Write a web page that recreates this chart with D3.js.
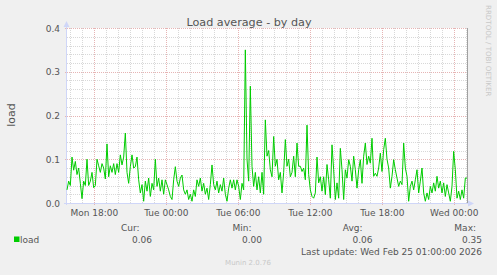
<!DOCTYPE html>
<meta charset="utf-8">
<style>
body { margin: 0; background: #f0f0f0; }
text { font-family: "DejaVu Sans", sans-serif; fill: #555; }
</style>
<svg id="chart" width="497" height="275"></svg>
<script src="https://d3js.org/d3.v7.min.js"></script>
<script>

// samples every 500 s, starting Mon Feb 23 15:43:30 UTC
var startTime = Date.UTC(2026, 1, 23, 15, 43, 30),
    stepMs = 500 * 1000;

var loadValues = [
  0.03,0.05,0.04,0.105,0.075,0.095,0.065,0.08,0.045,0.01,
  0.05,0.04,0.1,0.04,0.05,0.07,0.035,0.04,0.1,0.085,
  0.07,0.09,0.08,0.055,0.135,0.06,0.085,0.07,0.09,0.065,
  0.09,0.07,0.11,0.087,0.105,0.16,0.07,0.045,0.083,0.11,
  0.08,0.083,0.105,0.053,0.023,0.042,0.004,0.05,0.027,0.057,
  0.015,0.045,0.03,0.1,0.038,0.057,0.027,0.053,0.02,0.053,
  0.042,0.03,0.015,0.008,0.053,0.083,0.05,0.038,0.057,0.064,
  0.03,0.02,0.03,0.008,0.02,0.004,0.03,0.015,0.053,0.038,
  0.057,0.027,0.045,0.02,0.034,0.008,0.042,0.087,0.042,0.03,
  0.05,0.023,0.042,0.027,0.057,0.02,0.004,0.034,0.053,0.034,
  0.053,0.03,0.053,0.038,0.008,0.045,0.03,0.35,0.1,0.05,
  0.267,0.084,0.038,0.07,0.03,0.06,0.023,0.07,0.02,0.19,
  0.107,0.12,0.076,0.06,0.152,0.084,0.1,0.053,0.07,0.023,
  0.07,0.145,0.084,0.1,0.06,0.07,0.107,0.06,0.137,0.084,
  0.084,0.072,0.08,0.053,0.178,0.065,0.03,0.015,0.011,0.023,
  0.105,0.046,0.06,0.027,0.06,0.019,0.088,0.053,0.011,0.133,
  0.076,0.008,0.046,0.011,0.125,0.076,0.008,0.076,0.057,0.099,
  0.084,0.05,0.107,0.076,0.034,0.076,0.099,0.045,0.107,0.137,
  0.088,0.107,0.091,0.148,0.061,0.068,0.061,0.08,0.114,0.072,
  0.122,0.148,0.1,0.08,0.034,0.061,0.099,0.076,0.057,0.038,
  0.05,0.042,0.137,0.08,0.061,0.004,0.038,0.05,0.03,0.053,
  0.076,0.023,0.05,0.08,0.023,0.004,0.023,0.008,0.038,0.023,
  0.046,0.027,0.061,0.034,0.05,0.023,0.046,0.015,0.042,0.023,
  0.004,0.038,0.118,0.076,0.011,0.027,0.008,0.03,0.011,0.057,
  0.057
];

var yTicks = [0, 0.1, 0.2, 0.3, 0.4];
var legendHeaders = ["Cur:", "Min:", "Avg:", "Max:"];
var lastUpdate = "Last update: Wed Feb 25 01:00:00 2026";

var data = loadValues.map(function(v, i) {
  return { t: new Date(startTime + i * stepMs), v: v };
});

var svg = d3.select("svg"),
    pl = 67, pr = 467, pt = 28, pb = 203;

var x = d3.scaleUtc()
    .domain([new Date(startTime), new Date(startTime + (loadValues.length - 1) * stepMs)])
    .range([pl, pr]);
var y = d3.scaleLinear().domain([0, 0.4]).range([pb, pt]);

svg.append("rect")
    .attr("x", pl).attr("y", pt)
    .attr("width", pr - pl).attr("height", pb - pt)
    .attr("fill", "#fff");

// minor grid
var grid = svg.append("g").attr("shape-rendering", "crispEdges");
grid.selectAll(".hmin")
  .data(d3.range(1, 20).filter(function(d) { return d % 5 != 0; }).map(function(d) { return d * 0.02; }))
  .enter().append("line")
    .attr("x1", pl).attr("x2", pr)
    .attr("y1", function(d) { return Math.round(y(d)) + 0.5; })
    .attr("y2", function(d) { return Math.round(y(d)) + 0.5; })
    .attr("stroke", "#d8d8d8").attr("stroke-dasharray", "1,1");

var hours = x.ticks(d3.utcHour.every(1));
grid.selectAll(".vmin")
  .data(hours.filter(function(d) { return d.getUTCHours() % 6 != 0; }))
  .enter().append("line")
    .attr("x1", function(d) { return Math.round(x(d)) + 0.5; })
    .attr("x2", function(d) { return Math.round(x(d)) + 0.5; })
    .attr("y1", pt).attr("y2", pb)
    .attr("stroke", "#d8d8d8").attr("stroke-dasharray", "1,1");

// major grid
var majors = x.ticks(d3.utcHour.every(6));
grid.selectAll(".vmaj")
  .data(majors)
  .enter().append("line")
    .attr("x1", function(d) { return Math.round(x(d)) + 0.5; })
    .attr("x2", function(d) { return Math.round(x(d)) + 0.5; })
    .attr("y1", pt).attr("y2", pb + 2)
    .attr("stroke", "#e6b4b4").attr("stroke-dasharray", "1,1");
grid.selectAll(".hmaj")
  .data(yTicks.slice(1))
  .enter().append("line")
    .attr("x1", pl - 2).attr("x2", pr)
    .attr("y1", function(d) { return Math.round(y(d)) + 0.5; })
    .attr("y2", function(d) { return Math.round(y(d)) + 0.5; })
    .attr("stroke", "#e6b4b4").attr("stroke-dasharray", "1,1");

// y labels
svg.selectAll(".ylab")
  .data(yTicks)
  .enter().append("text")
    .attr("x", 60).attr("y", function(d) { return y(d) + 3.5; })
    .attr("text-anchor", "end")
    .style("font-size", "9px")
    .text(function(d) { return d.toFixed(1); });

// x labels
svg.selectAll(".xlab")
  .data(majors)
  .enter().append("text")
    .attr("x", function(d) { return x(d); }).attr("y", 216)
    .attr("text-anchor", "middle")
    .style("font-size", "9px")
    .text(d3.utcFormat("%a %H:%M"));

// frame + axes
svg.append("line")
    .attr("x1", pr + 0.5).attr("x2", pr + 0.5)
    .attr("y1", pt).attr("y2", pb)
    .attr("stroke", "#a0a0a0");
svg.append("line")
    .attr("x1", pl - 0.5).attr("x2", pl - 0.5)
    .attr("y1", pt - 4).attr("y2", pb + 2)
    .attr("stroke", "#cfd6f8");
svg.append("line")
    .attr("x1", pl - 3).attr("x2", pr + 4)
    .attr("y1", pb + 0.5).attr("y2", pb + 0.5)
    .attr("stroke", "#cfd6f8");
svg.append("path")
    .attr("d", "M" + (pl - 3.5) + "," + (pt - 1) + "L" + (pl - 0.5) + "," + (pt - 7) + "L" + (pl + 2.5) + "," + (pt - 1) + "Z")
    .attr("fill", "#cfd6f8");
svg.append("path")
    .attr("d", "M" + (pr + 1) + "," + (pb - 2.5) + "L" + (pr + 7) + "," + (pb + 0.5) + "L" + (pr + 1) + "," + (pb + 3.5) + "Z")
    .attr("fill", "#cfd6f8");

// the series
svg.append("path")
    .datum(data)
    .attr("fill", "none")
    .attr("stroke", "#00cc00")
    .attr("stroke-width", 1)
    .attr("d", d3.line()
      .x(function(d) { return x(d.t); })
      .y(function(d) { return y(d.v); }));

// titles
svg.append("text")
    .attr("x", 249).attr("y", 26)
    .attr("text-anchor", "middle")
    .style("font-size", "11.2px")
    .text("Load average - by day");
svg.append("text")
    .attr("transform", "translate(15,115) rotate(-90)")
    .attr("text-anchor", "middle")
    .style("font-size", "11px")
    .text("load");
svg.append("text")
    .attr("transform", "translate(486,5) rotate(90)")
    .attr("text-anchor", "start")
    .style("font-size", "7.1px").style("fill", "#c8c8c8")
    .text("RRDTOOL / TOBI OETIKER");

// legend
var stats = [
  loadValues[loadValues.length - 1],
  d3.min(loadValues),
  d3.mean(loadValues),
  d3.max(loadValues)
];
var colX = [139.5, 251.5, 362.5, 476];
var valX = [152, 262, 372.5, 482];

svg.selectAll(".lhead")
  .data(legendHeaders)
  .enter().append("text")
    .attr("x", function(d, i) { return colX[i]; }).attr("y", 231)
    .attr("text-anchor", "end")
    .style("font-size", "9px")
    .text(function(d) { return d; });
svg.selectAll(".lval")
  .data(stats)
  .enter().append("text")
    .attr("x", function(d, i) { return valX[i]; }).attr("y", 243)
    .attr("text-anchor", "end")
    .style("font-size", "9px")
    .text(function(d) { return d.toFixed(2); });

svg.append("rect")
    .attr("x", 14).attr("y", 236.5).attr("width", 5.5).attr("height", 5.5)
    .attr("fill", "#00cc00");
svg.append("text")
    .attr("x", 20).attr("y", 243)
    .style("font-size", "9px")
    .text("load");

svg.append("text")
    .attr("x", 482).attr("y", 255)
    .attr("text-anchor", "end")
    .style("font-size", "9px")
    .text(lastUpdate);
svg.append("text")
    .attr("x", 248).attr("y", 265)
    .attr("text-anchor", "middle")
    .style("font-size", "7px").style("fill", "#c8c8c8")
    .text("Munin 2.0.76");

</script>
